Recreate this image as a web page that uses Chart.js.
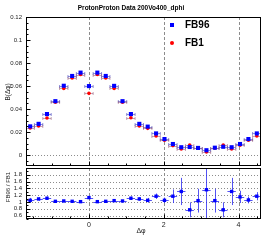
<!DOCTYPE html>
<html>
<head>
<meta charset="utf-8">
<script src="https://cdn.jsdelivr.net/npm/chart.js@4/dist/chart.umd.min.js"></script>
<style>
body { margin: 0; background: #fff; }
#wrap { position: relative; width: 266px; height: 241px; }
canvas { position: absolute; left: 0; }
</style>
</head>
<body>
<div id="wrap">
	<canvas id="ppTop" width="266" height="170" style="top:0px"></canvas>
	<canvas id="ppRatio" width="266" height="81" style="top:160px"></canvas>
</div>
<script>
// ProtonProton Data 200Vo400_dphi - FB96 vs FB1

var NBINS = 28;
var binW = 2 * Math.PI / NBINS;
var xMin = -Math.PI / 2 - binW / 2;
var xMax = 3 * Math.PI / 2 - binW / 2;
var dphiCenters = [];
for (var i = 0; i < NBINS; i++) {
	dphiCenters.push(-Math.PI / 2 + i * binW);
}

var fb96Values = [
	0.0250, 0.0272, 0.0357, 0.0469, 0.0603, 0.0688, 0.0717,
	0.0600, 0.0717, 0.0688, 0.0602, 0.0469, 0.0357, 0.0272,
	0.0248, 0.0189, 0.0140, 0.0097, 0.0069, 0.0071, 0.0063,
	0.0043, 0.0065, 0.0073, 0.0069, 0.0097, 0.0140, 0.0189
];
var fb1Values = [
	0.0237, 0.0254, 0.0323, 0.0460, 0.0580, 0.0671, 0.0700,
	0.0537, 0.0700, 0.0671, 0.0580, 0.0460, 0.0325, 0.0254,
	0.0233, 0.0166, 0.0129, 0.0083, 0.0054, 0.0088, 0.0060,
	0.0027, 0.0060, 0.0088, 0.0054, 0.0086, 0.0129, 0.0166
];
var ratioValues = [
	1.05, 1.09, 1.11, 1.02, 1.03, 1.02, 1.01,
	1.13, 1.01, 1.02, 1.04, 1.03, 1.11, 1.09,
	1.05, 1.17, 1.05, 1.17, 1.31, 0.77, 1.04,
	1.36, 1.04, 0.77, 1.31, 1.15, 1.06, 1.17
];
var ratioErrors = [
	0.07, 0.05, 0.05, 0.03, 0.03, 0.03, 0.03,
	0.05, 0.03, 0.03, 0.03, 0.03, 0.05, 0.05,
	0.07, 0.08, 0.08, 0.20, 0.40, 0.22, 0.35,
	0.85, 0.35, 0.22, 0.40, 0.18, 0.10, 0.12
];
var xTickValues = [0, 2, 4];

var FONT = "'Liberation Sans', Arial, sans-serif";

function toPoints(vals) {
	return vals.map(function(v, i) { return { x: dphiCenters[i], y: v }; });
}

function fixAxis(size, vertical) {
	return function(s) {
		if (vertical) { s.width = size; } else { s.height = size; }
		s.paddingTop = 0; s.paddingBottom = 0; s.paddingLeft = 0; s.paddingRight = 0;
	};
}

function fmt(v) { return +v.toFixed(3) + ''; }

var decoPlugin = {
	id: 'deco',
	beforeDatasetsDraw: function(chart, args, opts) {
		var ctx = chart.ctx, a = chart.chartArea;
		var xs = chart.scales.x, ys = chart.scales.y;
		ctx.save();
		ctx.lineWidth = 1;
		ctx.strokeStyle = '#8c8c8c';
		ctx.setLineDash([3, 2]);
		opts.vlines.forEach(function(v) {
			var px = Math.round(xs.getPixelForValue(v)) + 0.5;
			ctx.beginPath(); ctx.moveTo(px, a.top); ctx.lineTo(px, a.bottom); ctx.stroke();
		});
		ctx.setLineDash([1, 2]);
		opts.hlines.forEach(function(v) {
			var py = Math.round(ys.getPixelForValue(v)) + 0.5;
			ctx.beginPath(); ctx.moveTo(a.left, py); ctx.lineTo(a.right, py); ctx.stroke();
		});
		ctx.setLineDash([]);

		// error bars, clipped to the frame
		ctx.beginPath(); ctx.rect(a.left, a.top, a.right - a.left, a.bottom - a.top); ctx.clip();
		chart.data.datasets.forEach(function(ds) {
			ctx.strokeStyle = ds.barColor;
			ds.data.forEach(function(p, i) {
				var px = Math.round(xs.getPixelForValue(p.x)) + 0.5;
				var py = Math.round(ys.getPixelForValue(p.y)) + 0.5;
				var x0 = xs.getPixelForValue(p.x - binW / 2);
				var x1 = xs.getPixelForValue(p.x + binW / 2);
				ctx.beginPath();
				ctx.moveTo(x0, py); ctx.lineTo(x1, py);
				if (ds.caps) {
					ctx.moveTo(x0, py - 1.5); ctx.lineTo(x0, py + 1.5);
					ctx.moveTo(x1, py - 1.5); ctx.lineTo(x1, py + 1.5);
				}
				if (ds.errY) {
					ctx.moveTo(px, ys.getPixelForValue(p.y + ds.errY[i]));
					ctx.lineTo(px, ys.getPixelForValue(p.y - ds.errY[i]));
				}
				ctx.stroke();
			});
		});
		ctx.restore();
	},
	afterDraw: function(chart, args, opts) {
		var ctx = chart.ctx, a = chart.chartArea;
		var xs = chart.scales.x, ys = chart.scales.y;
		ctx.save();
		ctx.strokeStyle = '#000';
		ctx.lineWidth = 1;
		var L = Math.round(a.left) + 0.5, R = Math.round(a.right) - 0.5;
		var T = Math.round(a.top) + 0.5, B = Math.round(a.bottom) - 0.5;
		ctx.strokeRect(L, T, R - L, B - T);

		// inner ticks
		ctx.beginPath();
		function xTicks(step, len) {
			for (var v = Math.ceil(xs.min / step) * step; v <= xs.max; v += step) {
				var px = Math.round(xs.getPixelForValue(v)) + 0.5;
				ctx.moveTo(px, B); ctx.lineTo(px, B - len);
			}
		}
		function yTicks(step, len) {
			for (var v = Math.ceil(ys.min / step - 1e-6) * step; v <= ys.max + 1e-9; v += step) {
				var py = Math.round(ys.getPixelForValue(v)) + 0.5;
				ctx.moveTo(L, py); ctx.lineTo(L + len, py);
			}
		}
		xTicks(2, opts.xMajorLen); xTicks(0.5, opts.xMinorLen);
		yTicks(opts.yMajor, 4); yTicks(opts.yMinor, 2);
		ctx.stroke();

		// texts and legend
		opts.texts.forEach(function(t) {
			ctx.save();
			ctx.translate(t.x, t.y);
			if (t.rot) ctx.rotate(t.rot);
			ctx.font = t.font;
			ctx.fillStyle = t.color || '#000';
			ctx.textAlign = t.align || 'center';
			ctx.textBaseline = 'middle';
			ctx.fillText(t.text, 0, 0);
			ctx.restore();
		});
		(opts.legend || []).forEach(function(l) {
			ctx.fillStyle = l.color;
			ctx.beginPath();
			if (l.style === 'rect') {
				ctx.rect(l.x - 2, l.y - 2, 4, 4);
			} else {
				ctx.arc(l.x, l.y, 2, 0, Math.PI * 2);
			}
			ctx.fill();
			ctx.font = 'bold 10px ' + FONT;
			ctx.fillStyle = '#000';
			ctx.textAlign = 'left';
			ctx.textBaseline = 'middle';
			ctx.fillText(l.text, l.x + 13, l.y + 0.5);
		});
		ctx.restore();
	}
};

window.addEventListener('load', function() {
	var ctxTop = document.getElementById('ppTop').getContext('2d');
	var chartTop = new Chart(ctxTop, {
		type: 'scatter',
		data: {
			datasets: [
				{
					label: 'FB96',
					data: toPoints(fb96Values),
					pointStyle: 'rect',
					pointRadius: 2.9,
					backgroundColor: '#0000ff',
					borderWidth: 0,
					barColor: 'rgba(70,70,190,0.6)',
					caps: true
				},
				{
					label: 'FB1',
					data: toPoints(fb1Values),
					pointStyle: 'circle',
					pointRadius: 1.8,
					backgroundColor: '#ff0000',
					borderWidth: 0,
					barColor: 'rgba(150,90,120,0.55)',
					caps: true
				}
			]
		},
		options: {
			responsive: false,
			animation: false,
			events: [],
			layout: { padding: { top: 17, right: 5, bottom: 2, left: 0 } },
			scales: {
				x: {
					type: 'linear', min: xMin, max: xMax,
					ticks: { display: false },
					grid: { display: false, drawTicks: false },
					border: { display: false },
					afterFit: fixAxis(0, false)
				},
				y: {
					min: -0.0094, max: 0.12,
					ticks: {
						stepSize: 0.02, includeBounds: false, autoSkip: false, padding: 4,
						color: '#222', font: { size: 6, family: FONT },
						callback: fmt
					},
					grid: { display: false, drawTicks: false },
					border: { display: false },
					afterFit: fixAxis(26, true)
				}
			},
			plugins: {
				legend: { display: false },
				tooltip: { enabled: false },
				deco: {
					vlines: xTickValues,
					hlines: [0],
					yMajor: 0.02, yMinor: 0.005,
					xMajorLen: 4, xMinorLen: 2,
					texts: [
						{ text: 'ProtonProton Data 200Vo400_dphi', x: 131, y: 8, font: 'bold 6.5px ' + FONT },
						{ text: 'B(\u0394\u03c6)', x: 8, y: 92, rot: -Math.PI / 2, font: '6.5px ' + FONT, color: '#222' }
					],
					legend: [
						{ text: 'FB96', x: 172, y: 25, color: '#0000ff', style: 'rect' },
						{ text: 'FB1', x: 172, y: 43, color: '#ff0000', style: 'circle' }
					]
				}
			}
		},
		plugins: [decoPlugin]
	});

	var ctxRatio = document.getElementById('ppRatio').getContext('2d');
	var chartRatio = new Chart(ctxRatio, {
		type: 'scatter',
		data: {
			datasets: [
				{
					label: 'FB96 / FB1',
					data: toPoints(ratioValues),
					pointStyle: 'rect',
					pointRadius: 2.4,
					backgroundColor: '#0000ff',
					borderWidth: 0,
					barColor: 'rgba(40,40,240,0.8)',
					errY: ratioErrors
				}
			]
		},
		options: {
			responsive: false,
			animation: false,
			events: [],
			layout: { padding: { top: 8, right: 5, bottom: 0, left: 0 } },
			scales: {
				x: {
					type: 'linear', min: xMin, max: xMax,
					ticks: {
						stepSize: 2, includeBounds: false, autoSkip: false, padding: 2,
						maxRotation: 0, color: '#222', font: { size: 7, family: FONT },
						callback: fmt
					},
					grid: { display: false, drawTicks: false },
					border: { display: false },
					afterFit: fixAxis(22, false)
				},
				y: {
					min: 0.5, max: 2.0,
					ticks: {
						stepSize: 0.2, includeBounds: false, autoSkip: false, padding: 4,
						color: '#222', font: { size: 6, family: FONT },
						callback: function(v) { return v > 1.95 ? '' : fmt(v); }
					},
					grid: { display: false, drawTicks: false },
					border: { display: false },
					afterFit: fixAxis(26, true)
				}
			},
			plugins: {
				legend: { display: false },
				tooltip: { enabled: false },
				deco: {
					vlines: xTickValues,
					hlines: [0.6, 0.8, 1.0, 1.2, 1.4, 1.6, 1.8],
					yMajor: 0.2, yMinor: 0.1,
					xMajorLen: 4, xMinorLen: 2,
					texts: [
						{ text: 'FB96 / FB1', x: 8, y: 27, rot: -Math.PI / 2, font: '6px ' + FONT, color: '#222' },
						{ text: '\u0394\u03c6', x: 141, y: 71, font: '7px ' + FONT, color: '#222' }
					]
				}
			}
		},
		plugins: [decoPlugin]
	});
});
</script>
</body>
</html>
